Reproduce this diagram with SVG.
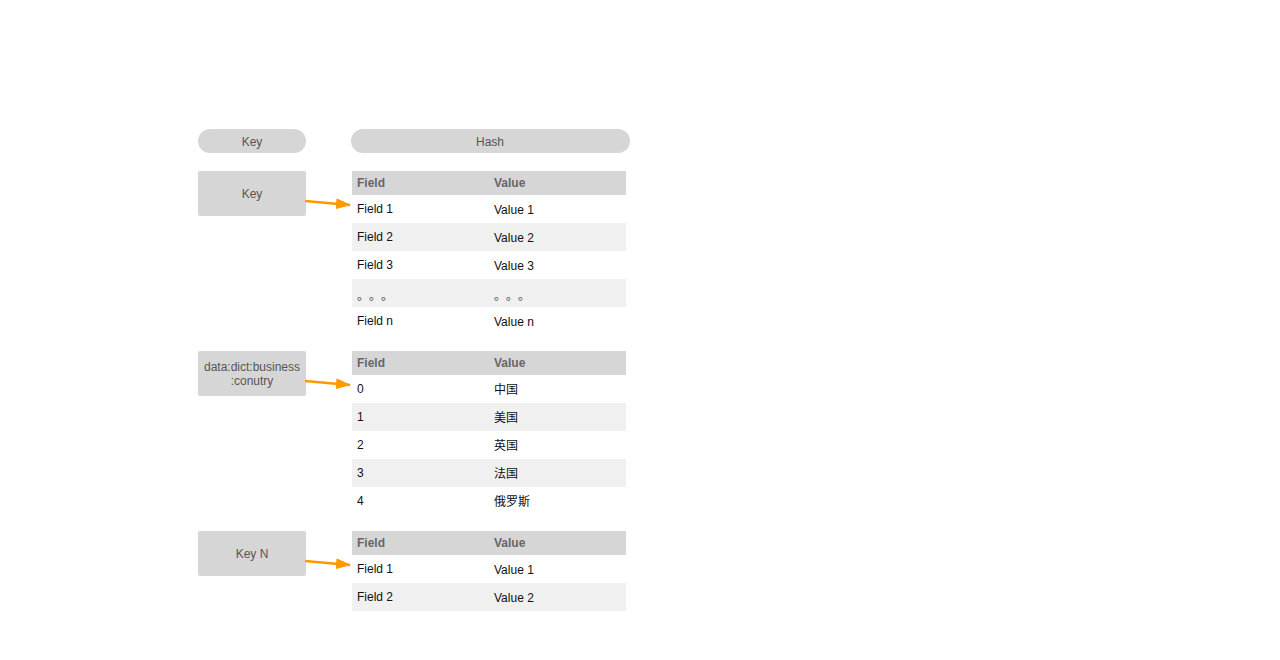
<svg xmlns="http://www.w3.org/2000/svg" width="1280" height="660" viewBox="0 0 1280 660">
<defs>
<style>
text{font-family:"Liberation Sans","Noto Sans CJK SC",Arial,sans-serif;font-size:12px}
.pill{fill:#d6d6d6}
.kbox{fill:#d6d6d6}
.klab{fill:#555;text-anchor:middle}
.hdr{fill:#d6d6d6}
.htxt{fill:#666;font-weight:bold}
.alt{fill:#f0f0f0}
.cell{fill:#111}
.dots{fill:#777;font-family:"Noto Sans CJK SC",sans-serif;font-size:12px;font-weight:bold}
.conn{stroke:#ff9900;stroke-width:2.5;fill:none}
</style>
<marker id="ah" markerWidth="15" markerHeight="11" refX="14" refY="5.5" orient="auto" markerUnits="userSpaceOnUse">
<path d="M0,0 L15,5.5 L0,11 Z" fill="#ff9900"/>
</marker>
</defs>
<rect width="1280" height="660" fill="#fff"/>
<g id="head-key"><rect class="pill" x="198" y="129" width="108" height="24" rx="12"/><text class="klab" x="252" y="145.5">Key</text></g>
<g id="head-hash"><rect class="pill" x="351" y="129" width="279" height="24" rx="12"/><text class="klab" x="490" y="145.5">Hash</text></g>

<g id="key1"><rect class="kbox" x="198" y="171" width="108" height="45" rx="2"/><text class="klab" x="252" y="198">Key</text></g>
<g id="hash1">
<rect class="hdr" x="352" y="171" width="274" height="24"/>
<text class="htxt" x="357" y="187">Field</text><text class="htxt" x="494" y="187">Value</text>
<rect class="alt" x="352" y="223" width="274" height="28"/>
<rect class="alt" x="352" y="279" width="274" height="28"/>
<text class="cell" x="357" y="213">Field 1</text><text class="cell" x="494" y="214">Value 1</text>
<text class="cell" x="357" y="241">Field 2</text><text class="cell" x="494" y="242">Value 2</text>
<text class="cell" x="357" y="269">Field 3</text><text class="cell" x="494" y="270">Value 3</text>
<text class="dots" x="357 369 381" y="300">。。。</text><text class="dots" x="494 506 518" y="300">。。。</text>
<text class="cell" x="357" y="325">Field n</text><text class="cell" x="494" y="326">Value n</text>
</g>

<g id="key2"><rect class="kbox" x="198" y="351" width="108" height="45" rx="2"/><text class="klab" x="252" y="371">data:dict:business</text><text class="klab" x="252" y="385">:conutry</text></g>
<g id="hash2">
<rect class="hdr" x="352" y="351" width="274" height="24"/>
<text class="htxt" x="357" y="367">Field</text><text class="htxt" x="494" y="367">Value</text>
<rect class="alt" x="352" y="403" width="274" height="28"/>
<rect class="alt" x="352" y="459" width="274" height="28"/>
<text class="cell" x="357" y="393">0</text><text class="cell" x="494" y="394">中国</text>
<text class="cell" x="357" y="421">1</text><text class="cell" x="494" y="422">美国</text>
<text class="cell" x="357" y="449">2</text><text class="cell" x="494" y="450">英国</text>
<text class="cell" x="357" y="477">3</text><text class="cell" x="494" y="478">法国</text>
<text class="cell" x="357" y="505">4</text><text class="cell" x="494" y="506">俄罗斯</text>
</g>

<g id="key3"><rect class="kbox" x="198" y="531" width="108" height="45" rx="2"/><text class="klab" x="252" y="558">Key N</text></g>
<g id="hash3">
<rect class="hdr" x="352" y="531" width="274" height="24"/>
<text class="htxt" x="357" y="547">Field</text><text class="htxt" x="494" y="547">Value</text>
<rect class="alt" x="352" y="583" width="274" height="28"/>
<text class="cell" x="357" y="573">Field 1</text><text class="cell" x="494" y="574">Value 1</text>
<text class="cell" x="357" y="601">Field 2</text><text class="cell" x="494" y="602">Value 2</text>
</g>

<g id="connectors">
<line class="conn" x1="305" y1="201" x2="350" y2="205" marker-end="url(#ah)"/>
<line class="conn" x1="305" y1="381" x2="350" y2="385" marker-end="url(#ah)"/>
<line class="conn" x1="305" y1="561" x2="350" y2="565" marker-end="url(#ah)"/>
</g>
</svg>
